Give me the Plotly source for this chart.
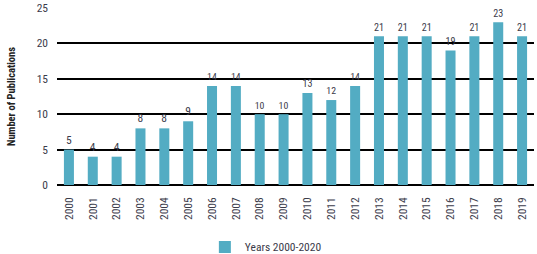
import plotly.graph_objects as go

years = [str(y) for y in range(2000, 2020)]
counts = [5, 4, 4, 8, 8, 9, 14, 14, 10, 10, 13, 12, 14, 21, 21, 21, 19, 21, 23, 21]
series_name = "Years 2000-2020"
y_ticks = [0, 5, 10, 15, 20, 25]

FONT = "Liberation Sans Narrow, Arial Narrow, Roboto Condensed, sans-serif"
TXT = "#3b3b4a"

fig = go.Figure()
fig.add_trace(go.Bar(
    x=years, y=counts, name=series_name,
    marker=dict(color="#53acc3", line=dict(width=0)),
    text=counts, textposition="outside", cliponaxis=False,
    textfont=dict(family=FONT, size=11.5, color=TXT),
    showlegend=True,
))
fig.update_layout(
    width=537, height=254,
    margin=dict(l=57, r=3, t=8, b=69, autoexpand=False),
    plot_bgcolor="white", paper_bgcolor="white",
    bargap=0.58,
    font=dict(family=FONT, size=11.5, color=TXT),
    showlegend=True,
    legend=dict(orientation="h", x=0.31, xanchor="left", y=-0.35, yanchor="middle",
                font=dict(family=FONT, size=11.5, color=TXT)),
    xaxis=dict(type="category", tickangle=-90, showgrid=False, showline=False,
               automargin=False, ticks="", ticklabelstandoff=9,
               tickfont=dict(family=FONT, size=11.5, color=TXT)),
    yaxis=dict(range=[0, 25], tickvals=y_ticks, showgrid=True, gridcolor="black",
               gridwidth=1.5, zeroline=True, zerolinecolor="black", zerolinewidth=1.5,
               automargin=False, ticks="", ticklabelstandoff=8,
               tickfont=dict(family=FONT, size=11.5, color=TXT),
               title=dict(text="<b>Number of Publications</b>", standoff=18,
                          font=dict(family=FONT, size=10.5, color="#222222"))),
)
fig.write_html("out.html", config={"displayModeBar": False},
               post_script="document.body.style.margin='0';")
